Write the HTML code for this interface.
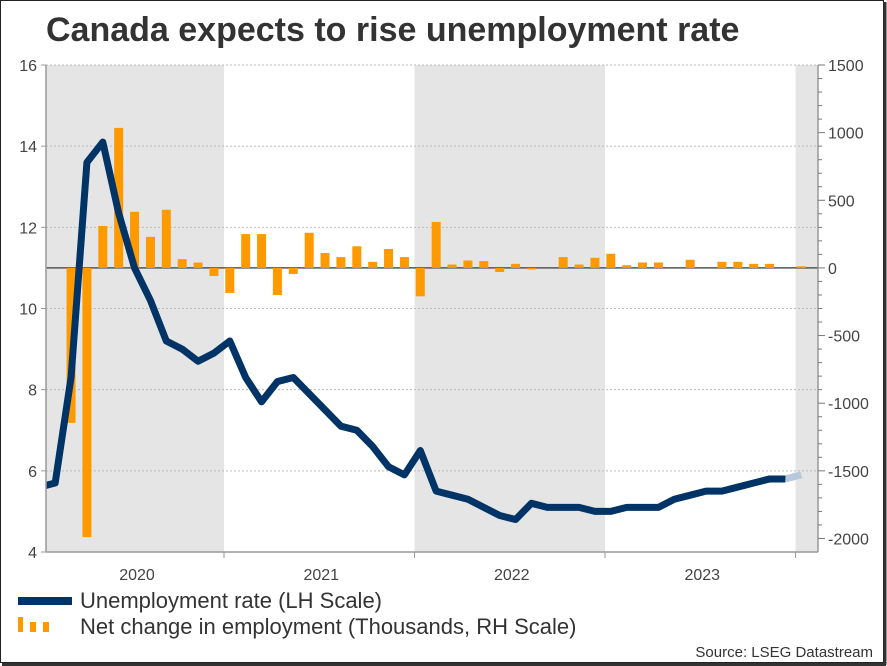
<!DOCTYPE html>
<html><head><meta charset="utf-8"><style>
body{margin:0;background:#fff;}
svg{display:block;font-family:"Liberation Sans",sans-serif;}
</style></head><body>
<svg id="chart" width="887" height="666" viewBox="0 0 887 666">
<rect x="0.5" y="0.5" width="883" height="662" fill="#fff" stroke="#222" stroke-width="1"/>
<line x1="885" y1="2" x2="885" y2="665" stroke="#333" stroke-width="3"/>
<line x1="2" y1="664.5" x2="886" y2="664.5" stroke="#333" stroke-width="3"/>
<text x="46" y="41" font-size="34" font-weight="bold" fill="#333">Canada expects to rise unemployment rate</text>
<g id="bands"></g>
<g id="grid"></g>
<g id="bars"></g>
<g id="lines"></g>
<g id="axes"></g>
<g>
<rect x="18" y="597" width="54" height="8" fill="#003366"/>
<text x="80" y="608" font-size="22" fill="#333">Unemployment rate (LH Scale)</text>
<rect x="18" y="617" width="5" height="15" fill="#f90"/>
<rect x="30" y="622" width="6" height="10" fill="#f90"/>
<rect x="43" y="622" width="6" height="10" fill="#f90"/>
<text x="80" y="634" font-size="22" fill="#333">Net change in employment (Thousands, RH Scale)</text>
</g>
<text x="873" y="657" font-size="15" fill="#333" text-anchor="end">Source: LSEG Datastream</text>
</svg>
<script>
const unemployment = [5.6,5.7,8.3,13.6,14.1,12.35,11.0,10.2,9.2,9.0,8.7,8.9,
9.2,8.3,7.7,8.2,8.3,7.9,7.5,7.1,7.0,6.6,6.1,5.9,
6.5,5.5,5.4,5.3,5.1,4.9,4.8,5.2,5.1,5.1,5.1,5.0,
5.0,5.1,5.1,5.1,5.3,5.4,5.5,5.5,5.6,5.7,5.8,5.8];
const forecast = [5.8,5.9];
const employmentChange = [null,null,-1145,-1990,310,1035,415,230,430,65,40,-60,
-185,250,250,-200,-45,260,110,80,160,45,140,80,
-210,340,25,55,50,-30,30,-5,0,80,25,75,
105,20,40,40,0,60,0,45,45,30,30,0,12];
const yearLabels = ["2020","2021","2022","2023"];
const leftTicks = [4,6,8,10,12,14,16];
const rightTicks = [-2000,-1500,-1000,-500,0,500,1000,1500];

const NS="http://www.w3.org/2000/svg";
const X0=46, X1=818, Y0=65, Y1=552;
const MONTH=15.875, JAN2020=39.3;
const xm = i => JAN2020 + i*MONTH;
const yL = v => Y0 + (16-v)*(Y1-Y0)/12;
const yR = v => yL(11) - v*(yL(11)-Y0)/1500;
const yearStart = k => 33.5 + k*190.5;
function mk(tag, attrs, parent){const e=document.createElementNS(NS,tag);for(const k in attrs)e.setAttribute(k,attrs[k]);document.getElementById(parent).appendChild(e);return e;}

[0,2,4].forEach(k=>{
  const a=Math.max(X0,yearStart(k)), b=Math.min(X1,yearStart(k+1));
  const r=mk('rect',{x:a,y:Y0,width:b-a,height:Y1-Y0,fill:'#e5e5e5'},'bands');
  
  
});
leftTicks.forEach(v=>{
  if(v===4||v===16)return;
  const l=mk('line',{x1:X0,x2:X1,y1:yL(v),y2:yL(v),stroke:'#bbb','stroke-dasharray':'2,2'},'grid');
  
  
});
const tg=mk('line',{x1:X0,x2:X1,y1:Y0,y2:Y0,stroke:'#bbb','stroke-dasharray':'2,2'},'grid');


const z=mk('line',{x1:X0,x2:X1,y1:yR(0),y2:yR(0),stroke:'#555','stroke-width':1.5},'bars');


employmentChange.forEach((v,i)=>{
  if(v===null||v===0)return;
  const cx=xm(i), y=Math.min(yR(0),yR(v)), h=Math.abs(yR(v)-yR(0));
  const r=mk('rect',{x:cx-4.5,y:y,width:9,height:Math.max(h,1.5),fill:'#f90'},'bars');
  
  
});
const clip=document.createElementNS(NS,'clipPath');clip.setAttribute('id','pc');
const cr=document.createElementNS(NS,'rect');cr.setAttribute('x',X0);cr.setAttribute('y',Y0);cr.setAttribute('width',X1-X0);cr.setAttribute('height',Y1-Y0);clip.appendChild(cr);
document.getElementById('lines').appendChild(clip);
const n=unemployment.length;
const fp=mk('polyline',{points:forecast.map((v,i)=>xm(n-1+i)+','+yL(v)).join(' '),fill:'none',stroke:'#b8c8da','stroke-width':7},'lines');


const pl=mk('polyline',{points:unemployment.map((v,i)=>xm(i)+','+yL(v)).join(' '),fill:'none',stroke:'#003366','stroke-width':7,'stroke-linejoin':'round','clip-path':'url(#pc)'},'lines');


const ax=[[X0,Y0,X0,Y1],[X1,Y0,X1,Y1],[X0,Y1,X1,Y1]];
ax.forEach(a=>{const l=mk('line',{x1:a[0],y1:a[1],x2:a[2],y2:a[3],stroke:'#999','stroke-width':1.5},'axes');

});
leftTicks.forEach(v=>{
  const t=mk('text',{x:X0-9,y:yL(v)+6,'font-size':16,fill:'#444','text-anchor':'end'},'axes');t.textContent=v;
  
  
  mk('line',{x1:X0-5,x2:X0,y1:yL(v),y2:yL(v),stroke:'#999'},'axes');
});
for(let v=-2000;v<=1500;v+=100){mk('line',{x1:X1,x2:X1+(v%500===0?7:4),y1:yR(v),y2:yR(v),stroke:'#777'},'axes');}
rightTicks.forEach(v=>{
  const t=mk('text',{x:X1+10,y:yR(v)+6,'font-size':16,fill:'#444'},'axes');t.textContent=v;
  
  
});
for(let k=1;k<=4;k++){mk('line',{x1:yearStart(k),x2:yearStart(k),y1:Y1,y2:Y1+6,stroke:'#999'},'axes');}
yearLabels.forEach((s,k)=>{
  const t=mk('text',{x:(Math.max(X0,yearStart(k))+yearStart(k+1))/2+2,y:580,'font-size':16,fill:'#444','text-anchor':'middle'},'axes');t.textContent=s;
  
  
});
</script>
</body></html>
